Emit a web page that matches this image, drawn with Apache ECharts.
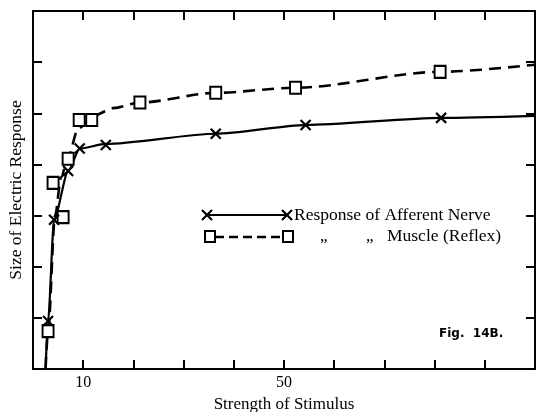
<!DOCTYPE html>
<html>
<head>
<meta charset="utf-8">
<script src="https://cdn.jsdelivr.net/npm/echarts@6/dist/echarts.min.js"></script>
<style>
html,body{margin:0;padding:0;background:#fff;}
#chart{width:536px;height:412px;}
</style>
</head>
<body>
<div id="chart"></div>
<script>
// observed points (markers)
var nerveStim  = [3.0, 4.2, 7.0, 9.3, 14.5, 36.4, 54.3, 81.3];
var nerveSize  = [0.94, 2.92, 3.87, 4.31, 4.38, 4.60, 4.77, 4.91];
var muscleStim = [3.0, 4.0, 6.0, 7.0, 9.2, 11.7, 21.3, 36.4, 52.3, 81.1];
var muscleSize = [0.74, 3.64, 2.97, 4.11, 4.87, 4.87, 5.21, 5.40, 5.50, 5.81];
// drawn curves through the points
var nerveCurveStim  = [2.5, 3.0, 4.2, 7.0, 9.3, 14.5, 36.4, 54.3, 81.3, 100];
var nerveCurveSize  = [0, 0.94, 2.92, 3.87, 4.31, 4.40, 4.60, 4.77, 4.91, 4.95];
var muscleCurveStim = [2.5, 3.0, 4.4, 5.6, 7.0, 9.0, 12.0, 16.0, 21.3, 36.4, 52.3, 81.1, 100];
var muscleCurveSize = [0, 0.74, 3.0, 3.75, 4.15, 4.7, 4.95, 5.1, 5.21, 5.40, 5.50, 5.81, 5.95];
var xTickLabels = {10: '10', 50: '50'};

var serif = "'Liberation Serif', 'DejaVu Serif', serif";
var ink = '#000';
var crossPath = 'path://M0,0L10,10M10,0L0,10';

function pairs(xs, ys){
	var out = [];
	for(var i = 0; i < xs.length; i++){
		out.push([xs[i], ys[i]]);
	}
	return out;
}

// legend cross drawn as two strokes
function cross(cx, cy){
	return [
		{type: 'line', shape: {x1: cx-5, y1: cy-5, x2: cx+5, y2: cy+5}, style: {stroke: ink, lineWidth: 2.2}, z: 10},
		{type: 'line', shape: {x1: cx+5, y1: cy-5, x2: cx-5, y2: cy+5}, style: {stroke: ink, lineWidth: 2.2}, z: 10}
	];
}

function axisLine(){ return {show: true, onZero: false, lineStyle: {color: ink, width: 2}}; }
function axisTick(){ return {show: true, inside: true, length: 9, lineStyle: {color: ink, width: 2}}; }

var chart = echarts.init(document.getElementById('chart'));

var graphics = [
	{type: 'line', shape: {x1: 207, y1: 215, x2: 287, y2: 215}, style: {stroke: ink, lineWidth: 2}},
	{type: 'text', left: 294, top: 206, style: {text: 'Response of Afferent Nerve', font: '17.5px ' + serif, fill: ink}},
	{type: 'line', shape: {x1: 215, y1: 237, x2: 283, y2: 237}, style: {stroke: ink, lineWidth: 2.4, lineDash: [9, 5]}},
	{type: 'rect', shape: {x: 205, y: 231, width: 10, height: 11}, style: {stroke: ink, lineWidth: 2, fill: '#fff'}},
	{type: 'rect', shape: {x: 283, y: 231, width: 10, height: 11}, style: {stroke: ink, lineWidth: 2, fill: '#fff'}},
	{type: 'text', left: 320, top: 228, style: {text: '„', font: '17px ' + serif, fill: ink}},
	{type: 'text', left: 366, top: 228, style: {text: '„', font: '17px ' + serif, fill: ink}},
	{type: 'text', left: 387, top: 227, style: {text: 'Muscle (Reflex)', font: '17.5px ' + serif, fill: ink}},
	{type: 'text', left: 439, top: 328, style: {text: 'Fig.  14B.', font: 'bold 12px "DejaVu Sans", sans-serif', fill: ink}}
].concat(cross(207, 215), cross(287, 215));

var option = {
	animation: false,
	backgroundColor: '#fff',
	grid: {left: 33, top: 11, right: 1, bottom: 43, outerBoundsMode: 'none', containLabel: false},
	xAxis: [{
		type: 'value', min: 0, max: 100, interval: 10,
		axisLine: axisLine(), axisTick: axisTick(), splitLine: {show: false},
		axisLabel: {
			color: ink, fontFamily: serif, fontSize: 16, margin: 6,
			formatter: function(v){ return xTickLabels[v] || ''; }
		},
		name: 'Strength of Stimulus', nameLocation: 'middle', nameGap: 27,
		nameTextStyle: {color: ink, fontFamily: serif, fontSize: 17}
	}, {
		type: 'value', position: 'top', min: 0, max: 100, interval: 10,
		axisLine: axisLine(), axisTick: axisTick(), axisLabel: {show: false}, splitLine: {show: false}
	}],
	yAxis: [{
		type: 'value', min: 0, max: 7, interval: 1,
		axisLine: axisLine(), axisTick: axisTick(), axisLabel: {show: false}, splitLine: {show: false},
		name: 'Size of Electric Response', nameLocation: 'middle', nameGap: 8,
		nameTextStyle: {color: ink, fontFamily: serif, fontSize: 17.5}
	}, {
		type: 'value', position: 'right', min: 0, max: 7, interval: 1,
		axisLine: axisLine(), axisTick: axisTick(), axisLabel: {show: false}, splitLine: {show: false}
	}],
	series: [
		{
			type: 'line', smooth: 0.3, smoothMonotone: 'x', symbol: 'none',
			data: pairs(muscleCurveStim, muscleCurveSize),
			lineStyle: {color: ink, width: 2.6, type: [12, 7]}, z: 2
		},
		{
			type: 'line', smooth: 0.25, smoothMonotone: 'x', symbol: 'none',
			data: pairs(nerveCurveStim, nerveCurveSize),
			lineStyle: {color: ink, width: 2.2}, z: 2
		},
		{
			type: 'scatter', symbol: 'rect', symbolSize: [11, 12],
			data: pairs(muscleStim, muscleSize),
			itemStyle: {color: '#fff', borderColor: ink, borderWidth: 2, opacity: 1}, z: 4
		},
		{
			type: 'scatter', symbol: crossPath, symbolSize: 10,
			data: pairs(nerveStim, nerveSize),
			itemStyle: {color: 'none', borderColor: ink, borderWidth: 2.2, opacity: 1}, z: 5
		}
	],
	graphic: graphics
};

chart.setOption(option);
</script>
</body>
</html>
